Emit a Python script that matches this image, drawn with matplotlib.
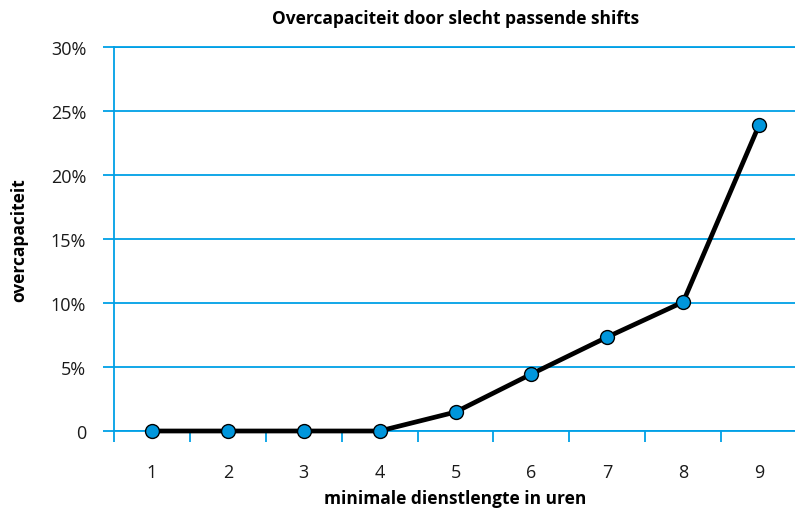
import matplotlib
matplotlib.use("Agg")
import matplotlib.pyplot as plt
import numpy as np

categories = ["1", "2", "3", "4", "5", "6", "7", "8", "9"]
values = [0.0, 0.0, 0.0, 0.0, 1.48, 4.45, 7.34, 10.08, 23.9]
ytick_vals = [0, 5, 10, 15, 20, 25, 30]
ytick_labels = ["0", "5%", "10%", "15%", "20%", "25%", "30%"]

plt.rcParams['font.family'] = ['Open Sans', 'DejaVu Sans']
blue = "#00a0e6"
marker_blue = "#0096dc"

fig = plt.figure(figsize=(7.95, 5.10), dpi=100)
ax = fig.add_axes([114/795, (510-432)/510, (797-114)/795, (432-48)/510])

x = np.arange(1, len(categories) + 1)
ax.plot(x, values, color="black", lw=3.4, zorder=3, solid_capstyle="round",
        marker="o", markersize=10, markerfacecolor=marker_blue,
        markeredgecolor="black", markeredgewidth=1.0, clip_on=False)

ax.set_xlim(0.5, len(categories) + 0.5)
ax.set_ylim(0, 30)

ax.spines["right"].set_visible(False)
for s in ["left", "bottom", "top"]:
    ax.spines[s].set_color(blue)
    ax.spines[s].set_linewidth(1.3)

ax.set_yticks(ytick_vals)
ax.set_yticklabels(ytick_labels, fontsize=13, color="#1a1a1a")
ax.yaxis.grid(True, color=blue, lw=1.3)
ax.set_axisbelow(True)
ax.tick_params(axis="y", direction="out", length=8, width=1.3, color=blue, pad=12)

ax.set_xticks(np.arange(0.5, len(categories) + 0.6, 1.0))
ax.set_xticklabels([])
ax.set_xticks(x, minor=True)
ax.set_xticklabels(categories, minor=True, fontsize=13, color="#1a1a1a")
ax.tick_params(axis="x", which="major", direction="out", length=8, width=1.3, color=blue)
ax.tick_params(axis="x", which="minor", length=0, pad=23)

ax.set_xlabel("minimale dienstlengte in uren", fontsize=12.5, fontweight="bold", labelpad=6)
ax.set_ylabel("overcapaciteit", fontsize=12.5, fontweight="bold", labelpad=16)
ax.set_title("Overcapaciteit door slecht passende shifts", fontsize=12.5, fontweight="bold", pad=17)

fig.savefig("out.png", dpi=100)
